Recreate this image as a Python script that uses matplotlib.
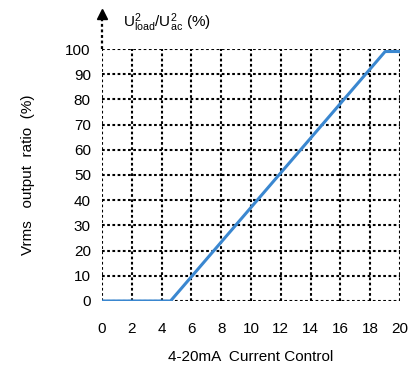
import matplotlib.pyplot as plt
import numpy as np

plt.rcParams['font.family'] = ['Liberation Sans', 'DejaVu Sans']
plt.rcParams['mathtext.fontset'] = 'custom'
plt.rcParams['mathtext.rm'] = 'Liberation Sans'
plt.rcParams['mathtext.it'] = 'Liberation Sans'

# 读取的曲线数据
current = [0, 4.6, 19, 20]
ratio = [0, 0, 99, 99]
x_ticks = list(range(0, 21, 2))
y_ticks = list(range(0, 101, 10))

fig = plt.figure(figsize=(4.19, 3.69), dpi=100)
ax = fig.add_axes([0.2434, 0.1843, 0.7113, 0.6829])

dot = (0, (1.3, 1.2))
for xv in x_ticks:
    ax.plot([xv, xv], [0, 100], color='black', linestyle=dot, linewidth=1.5, zorder=1)
for yv in y_ticks:
    ax.plot([0, 20], [yv, yv], color='black', linestyle=dot, linewidth=1.5, zorder=1)

# 纵轴箭头
ax.plot([0, 0], [100, 112], color='black', linestyle=dot, linewidth=1.6, clip_on=False)
ax.plot([0], [113.8], marker='^', markersize=6.5, color='black', clip_on=False)

ax.plot(current, ratio, color='#3a87d0', linewidth=2.2, zorder=3, solid_capstyle='butt')

ax.set_xlim(0, 20)
ax.set_ylim(0, 100)
for s in ax.spines.values():
    s.set_visible(False)
ax.set_xticks(x_ticks)
ax.set_yticks(y_ticks)
ax.tick_params(length=0, labelsize=11)
ax.tick_params(axis='x', pad=15)
ax.tick_params(axis='y', pad=8)

ax.set_xlabel('4-20mA  Current Control', fontsize=11, labelpad=10)
ax.set_ylabel('Vrms   output  ratio  (%)', fontsize=11, labelpad=22)

ax.text(1.4, 110.5, r'$\mathregular{U^2_{load}/U^2_{ac}}$ (%)', fontsize=11,
        ha='left', va='center', clip_on=False)

fig.savefig('out.png', dpi=100)
